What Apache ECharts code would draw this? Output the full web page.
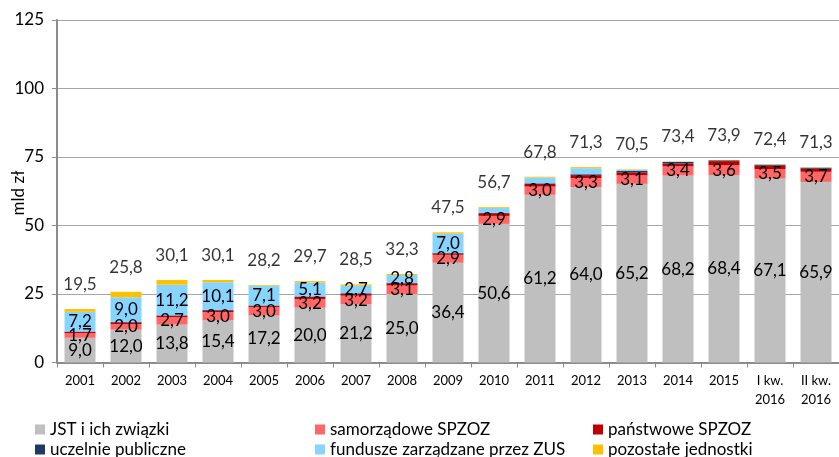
<!DOCTYPE html>
<html>
<head>
<meta charset="utf-8">
<script src="https://cdn.jsdelivr.net/npm/echarts@6/dist/echarts.min.js"></script>
<style>
  html, body { margin: 0; padding: 0; background: #fff; }
  #chart { width: 839px; height: 457px; }
</style>
</head>
<body>
<div id="chart"></div>
<script>
// kategorie osi X
const categories = ['2001', '2002', '2003', '2004', '2005', '2006', '2007', '2008', '2009',
  '2010', '2011', '2012', '2013', '2014', '2015', 'I kw.\n2016', 'II kw.\n2016']

// wartości (mld zł)
const jst =         [9.0, 12.0, 13.8, 15.4, 17.2, 20.0, 21.2, 25.0, 36.4, 50.6, 61.2, 64.0, 65.2, 68.2, 68.4, 67.1, 65.9]
const samorzadowe = [1.7, 2.0, 2.7, 3.0, 3.0, 3.2, 3.2, 3.1, 2.9, 2.9, 3.0, 3.3, 3.1, 3.4, 3.6, 3.5, 3.7]
const panstwowe =   [0.5, 0.6, 0.5, 0.5, 0.4, 0.7, 0.7, 0.8, 0.5, 1.0, 1.0, 1.1, 1.1, 1.0, 1.5, 1.2, 1.1]
const uczelnie =    [0.1, 0.2, 0.2, 0.3, 0.2, 0.2, 0.2, 0.2, 0.2, 0.1, 0.2, 0.3, 0.5, 0.6, 0.3, 0.4, 0.4]
const fundusze =    [7.2, 9.0, 11.2, 10.1, 7.1, 5.1, 2.7, 2.8, 7.0, 1.8, 2.1, 2.2, 0.4, 0.1, 0.0, 0.1, 0.1]
const pozostale =   [1.0, 2.0, 1.7, 0.8, 0.3, 0.5, 0.5, 0.4, 0.5, 0.3, 0.3, 0.4, 0.2, 0.1, 0.1, 0.1, 0.1]
const totals =      [19.5, 25.8, 30.1, 30.1, 28.2, 29.7, 28.5, 32.3, 47.5, 56.7, 67.8, 71.3, 70.5, 73.4, 73.9, 72.4, 71.3]

const FONT = 'Lato'
const fmt = v => v.toFixed(1).replace('.', ',')

const chart = echarts.init(document.getElementById('chart'), null, { renderer: 'canvas' })

const segLabel = (minVal) => ({
  show: true,
  position: 'inside',
  fontFamily: FONT,
  fontSize: 17,
  color: '#000',
  formatter: p => (p.value >= minVal ? fmt(p.value) : '')
})

const barSeries = (name, data, color, label) => ({
  name,
  type: 'bar',
  stack: 'dlug',
  barWidth: 31,
  data,
  itemStyle: { color },
  label: label || { show: false },
  emphasis: { disabled: true },
  animation: false
})

// jedna pozycja legendy = jeden komponent, układ 3 kolumny x 2 wiersze
const legendItem = (left, top, name) => ({
  left,
  top,
  itemWidth: 10,
  itemHeight: 10,
  icon: 'rect',
  selectedMode: false,
  padding: 0,
  textStyle: { fontFamily: FONT, fontSize: 17, color: '#000' },
  data: [name]
})

const option = {
  backgroundColor: '#fff',
  animation: false,
  grid: { left: 57, top: 20, width: 785.5, height: 342.5 },
  // nazwa osi Y jako osobny tekst (łatwiej ustawić pozycję)
  graphic: [{
    type: 'text',
    x: 19,
    y: 193,
    rotation: Math.PI / 2,
    style: {
      text: 'mld zł',
      font: '17px Lato',
      fill: '#000',
      align: 'center',
      verticalAlign: 'middle'
    }
  }],
  legend: [
    legendItem(35, 421, 'JST i ich związki'),
    legendItem(35, 441, 'uczelnie publiczne'),
    legendItem(315, 421, 'samorządowe SPZOZ'),
    legendItem(315, 441, 'fundusze zarządzane przez ZUS'),
    legendItem(593, 421, 'państwowe SPZOZ'),
    legendItem(593, 441, 'pozostałe jednostki')
  ],
  xAxis: {
    type: 'category',
    data: categories,
    axisLine: { lineStyle: { color: '#8c8c8c', width: 2 } },
    axisTick: { show: true, length: 5, lineStyle: { color: '#8c8c8c' } },
    axisLabel: { fontFamily: FONT, fontSize: 13, color: '#000', lineHeight: 19, margin: 9 }
  },
  yAxis: {
    type: 'value',
    min: 0,
    max: 125,
    interval: 25,
    axisLine: { show: true, lineStyle: { color: '#8c8c8c', width: 2 } },
    axisTick: { show: true, length: 5, lineStyle: { color: '#8c8c8c' } },
    axisLabel: { fontFamily: FONT, fontSize: 17, color: '#000', margin: 13 },
    splitLine: { lineStyle: { color: '#a6a6a6', width: 1 } }
  },
  series: [
    barSeries('JST i ich związki', jst, '#bfbfbf', segLabel(0)),
    barSeries('samorządowe SPZOZ', samorzadowe, '#ff6666', segLabel(0)),
    barSeries('państwowe SPZOZ', panstwowe, '#c00000'),
    barSeries('uczelnie publiczne', uczelnie, '#1f3864'),
    barSeries('fundusze zarządzane przez ZUS', fundusze, '#87d4ff', segLabel(2.5)),
    barSeries('pozostałe jednostki', pozostale, '#ffc000'),
    {
      name: 'suma',
      type: 'scatter',
      data: totals,
      symbolSize: 0,
      silent: true,
      label: {
        show: true,
        position: 'top',
        distance: 16,
        fontFamily: FONT,
        fontSize: 17,
        color: '#000',
        formatter: p => fmt(p.value)
      },
      animation: false
    }
  ]
}

chart.setOption(option)
</script>
</body>
</html>
